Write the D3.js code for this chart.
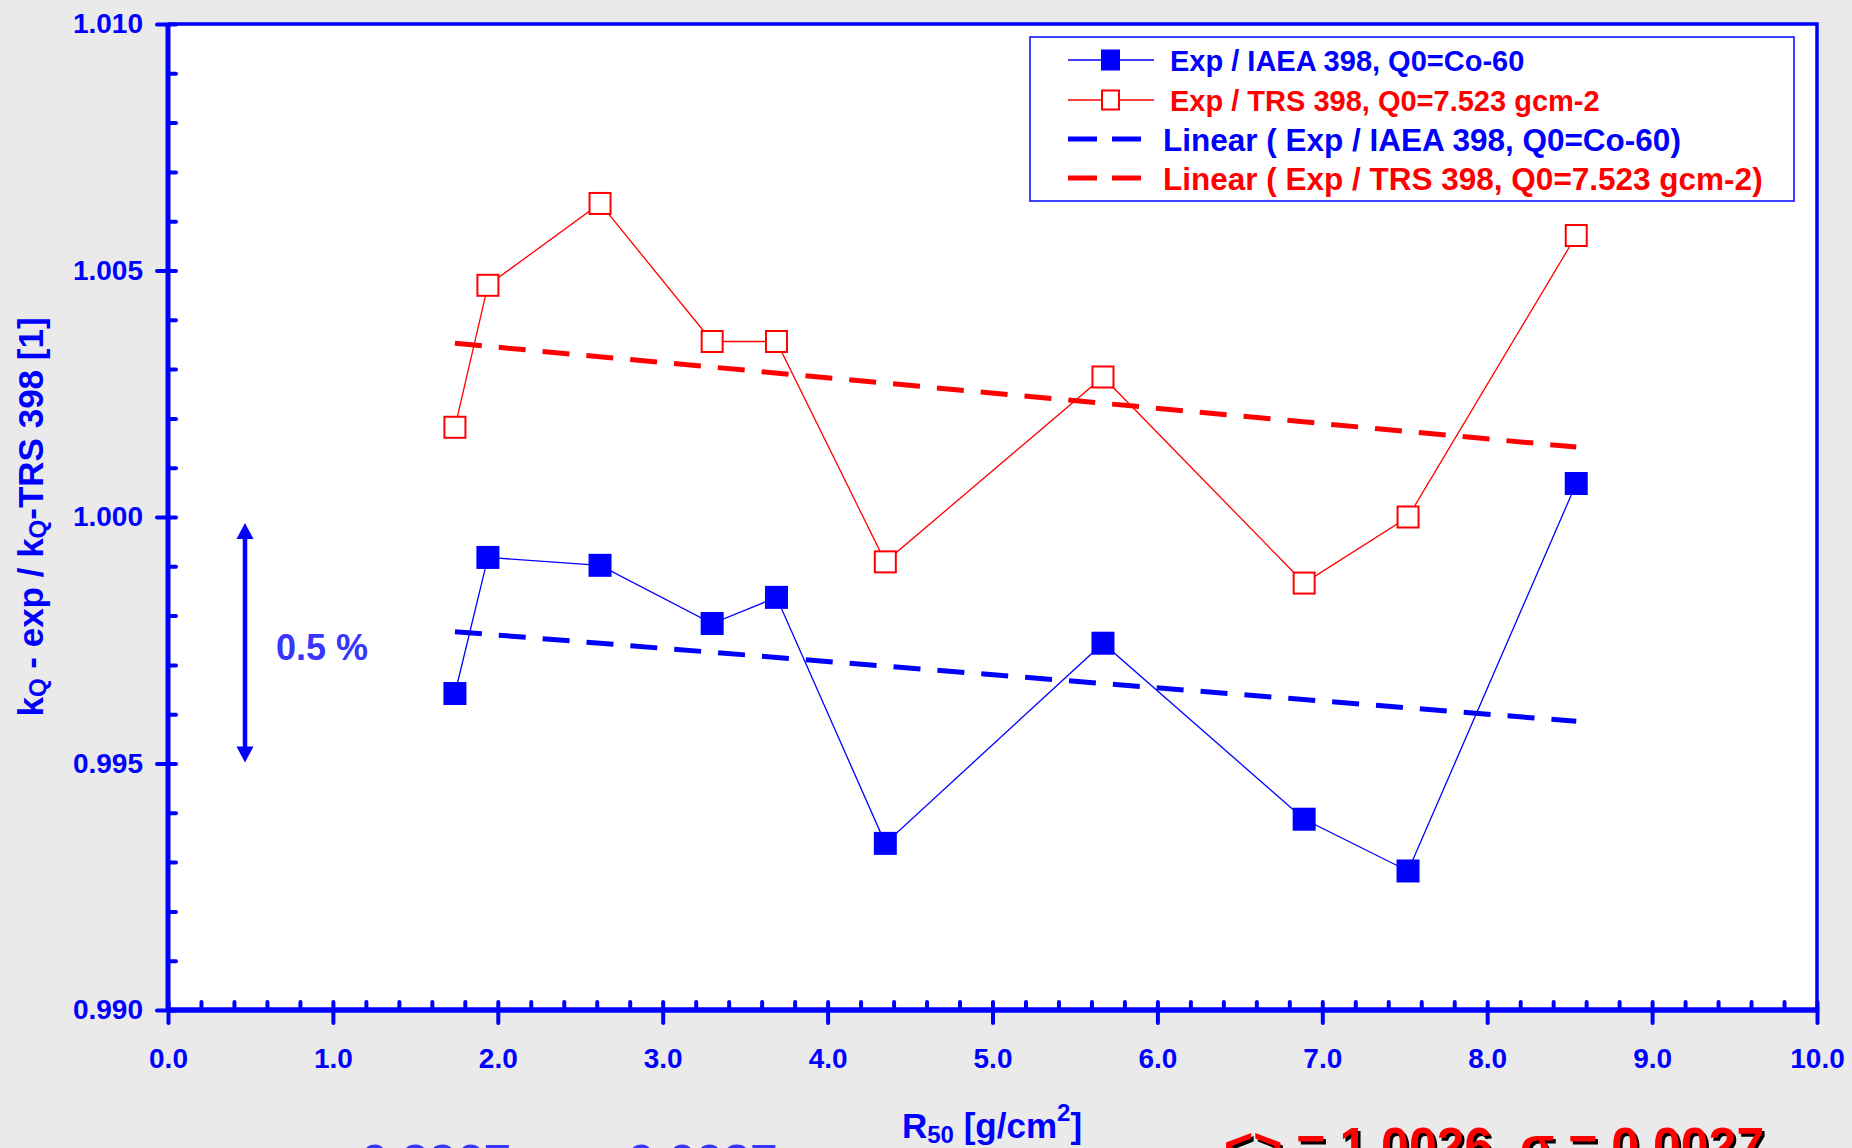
<!DOCTYPE html>
<html>
<head>
<meta charset="utf-8">
<script src="https://cdn.jsdelivr.net/npm/d3@7"></script>
<style>
  html, body { margin: 0; padding: 0; background: #eaeaea; }
  svg { display: block; font-family: "Liberation Sans", Arial, sans-serif; font-weight: bold; }
</style>
</head>
<body>
<svg id="chart" width="1852" height="1148"></svg>
<script>
// Beam quality (R50, g/cm2) of each measured electron beam
const r50 = [1.74, 1.94, 2.62, 3.30, 3.69, 4.35, 5.67, 6.89, 7.52, 8.54];
// kQ-exp / kQ-TRS 398 ratios, reference quality Q0 = Co-60
const ratioIAEA = [0.99642, 0.99918, 0.99902, 0.99784, 0.99837, 0.99338, 0.99744, 0.99387, 0.99282, 1.00068];
// kQ-exp / kQ-TRS 398 ratios, reference quality Q0 = 7.523 g/cm2
const ratioTRS = [1.00182, 1.00470, 1.00636, 1.00356, 1.00356, 0.99909, 1.00284, 0.99866, 1.00000, 1.00571];

const xTickValues = [0, 1, 2, 3, 4, 5, 6, 7, 8, 9, 10];
const xTickLabels = ["0.0", "1.0", "2.0", "3.0", "4.0", "5.0", "6.0", "7.0", "8.0", "9.0", "10.0"];
const yTickValues = [0.990, 0.995, 1.000, 1.005, 1.010];
const yTickLabels = ["0.990", "0.995", "1.000", "1.005", "1.010"];

const seriesNames = [
  "Exp / IAEA 398, Q0=Co-60",
  "Exp / TRS 398, Q0=7.523 gcm-2",
  "Linear ( Exp / IAEA 398, Q0=Co-60)",
  "Linear ( Exp / TRS 398, Q0=7.523 gcm-2)"
];
// 0.5 % scale bar
const scaleBar = [1.000, 0.995];
const scaleBarLabel = "0.5 %";
const summaryIAEA = "<> = 0.9967, σ = 0.0027";
const summaryTRS = "<> = 1.0026, σ = 0.0027";

const BLUE = "#0000ff", RED = "#ff0000", SOFTBLUE = "#3636ff";

const svg = d3.select("#chart");
const x = d3.scaleLinear().domain([0, 10]).range([168, 1817]);
const y = d3.scaleLinear().domain([0.990, 1.010]).range([1010, 24]);

// plot area
svg.append("rect")
  .attr("x", x(0)).attr("y", y(1.010))
  .attr("width", x(10) - x(0)).attr("height", y(0.990) - y(1.010))
  .attr("fill", "#ffffff");

// least-squares straight line through a series
function linearFit(xs, ys) {
  const mx = d3.mean(xs), my = d3.mean(ys);
  let sxy = 0, sxx = 0;
  xs.forEach((v, i) => { sxy += (v - mx) * (ys[i] - my); sxx += (v - mx) * (v - mx); });
  const b = sxy / sxx;
  return v => my + b * (v - mx);
}

const line = d3.line().x(d => x(d[0])).y(d => y(d[1]));
const ptsIAEA = r50.map((v, i) => [v, ratioIAEA[i]]);
const ptsTRS = r50.map((v, i) => [v, ratioTRS[i]]);
const xExt = d3.extent(r50);

// trend lines
[[ratioIAEA, BLUE], [ratioTRS, RED]].forEach(([ys, c]) => {
  const f = linearFit(r50, ys);
  svg.append("path")
    .attr("d", line(xExt.map(v => [v, f(v)])))
    .attr("fill", "none").attr("stroke", c)
    .attr("stroke-width", 5).attr("stroke-dasharray", "27,17");
});

// connecting lines
svg.append("path").attr("d", line(ptsIAEA)).attr("fill", "none").attr("stroke", BLUE).attr("stroke-width", 1.3);
svg.append("path").attr("d", line(ptsTRS)).attr("fill", "none").attr("stroke", RED).attr("stroke-width", 1.3);

// markers
svg.append("g").selectAll("rect").data(ptsIAEA).join("rect")
  .attr("x", d => x(d[0]) - 11.5).attr("y", d => y(d[1]) - 11.5)
  .attr("width", 23).attr("height", 23).attr("fill", BLUE);
svg.append("g").selectAll("rect").data(ptsTRS).join("rect")
  .attr("x", d => x(d[0]) - 10.5).attr("y", d => y(d[1]) - 10.5)
  .attr("width", 21).attr("height", 21).attr("fill", "#ffffff")
  .attr("stroke", RED).attr("stroke-width", 2);

// frame: top and right
svg.append("path")
  .attr("d", `M${x(0)},${y(1.010)}H${x(10)}V${y(0.990)}`)
  .attr("fill", "none").attr("stroke", BLUE).attr("stroke-width", 3.5);

function styleAxis(g, size) {
  g.select(".domain").remove();
  g.attr("font-family", null).attr("font-size", size);
  g.selectAll("line").attr("stroke", BLUE).attr("stroke-width", 4).attr("stroke-linecap", "round");
  g.selectAll("text").attr("fill", BLUE).attr("font-weight", "bold");
}

// x axis
const gx = svg.append("g").attr("transform", `translate(0,${y(0.990)})`);
gx.append("g").call(d3.axisTop(x).tickValues(x.ticks(50)).tickSize(8).tickFormat(""))
  .call(g => styleAxis(g, 28));
gx.append("g").call(d3.axisBottom(x).tickValues(xTickValues).tickSize(13).tickPadding(25)
    .tickFormat((d, i) => xTickLabels[i]))
  .call(g => styleAxis(g, 28));

// y axis
const gy = svg.append("g").attr("transform", `translate(${x(0)},0)`);
gy.append("g").call(d3.axisRight(y).tickValues(y.ticks(20)).tickSize(8).tickFormat(""))
  .call(g => styleAxis(g, 28));
gy.append("g").call(d3.axisLeft(y).tickValues(yTickValues).tickSize(11).tickPadding(14)
    .tickFormat((d, i) => yTickLabels[i]))
  .call(g => styleAxis(g, 28));

// axis lines
svg.append("line").attr("x1", x(0)).attr("x2", x(0)).attr("y1", y(1.010)).attr("y2", y(0.990))
  .attr("stroke", BLUE).attr("stroke-width", 5);
svg.append("line").attr("x1", x(0)).attr("x2", x(10)).attr("y1", y(0.990)).attr("y2", y(0.990))
  .attr("stroke", BLUE).attr("stroke-width", 5.5);

// y title
const yTitle = svg.append("text")
  .attr("transform", `translate(43,${(y(0.990) + y(1.010)) / 2}) rotate(-90)`)
  .attr("text-anchor", "middle").attr("font-size", 35).attr("fill", BLUE);
yTitle.append("tspan").text("k");
yTitle.append("tspan").attr("font-size", 24).attr("dy", 3).text("Q");
yTitle.append("tspan").attr("dy", -3).text(" - exp / k");
yTitle.append("tspan").attr("font-size", 24).attr("dy", 3).text("Q");
yTitle.append("tspan").attr("dy", -3).text("-TRS 398 [1]");

// x title
const xTitle = svg.append("text")
  .attr("x", 992).attr("y", 1138)
  .attr("text-anchor", "middle").attr("font-size", 35).attr("fill", BLUE);
xTitle.append("tspan").text("R");
xTitle.append("tspan").attr("font-size", 24).attr("dy", 5).text("50");
xTitle.append("tspan").attr("dy", -5).text(" [g/cm");
xTitle.append("tspan").attr("font-size", 24).attr("dy", -17).text("2");
xTitle.append("tspan").attr("dy", 17).text("]");

// scale bar: vertical double-headed arrow spanning 0.5 %
const barX = 245;
const barTop = y(scaleBar[0]) + 6, barBottom = y(scaleBar[1]) - 1;
const headW = 17, headH = 16;
svg.append("line")
  .attr("x1", barX).attr("x2", barX)
  .attr("y1", barTop + headH - 2).attr("y2", barBottom - headH + 2)
  .attr("stroke", BLUE).attr("stroke-width", 4.5);
svg.append("path")
  .attr("d", `M${barX},${barTop}L${barX + headW / 2},${barTop + headH}L${barX - headW / 2},${barTop + headH}Z` +
             `M${barX},${barBottom}L${barX + headW / 2},${barBottom - headH}L${barX - headW / 2},${barBottom - headH}Z`)
  .attr("fill", BLUE);
svg.append("text").attr("x", 276).attr("y", 660)
  .attr("font-size", 36).attr("fill", SOFTBLUE).text(scaleBarLabel);

// legend
const lg = svg.append("g");
lg.append("rect").attr("x", 1030).attr("y", 37).attr("width", 764).attr("height", 164)
  .attr("fill", "#ffffff").attr("stroke", BLUE).attr("stroke-width", 1.5);
const rowsY = [60, 100, 139, 178];
const rowColors = [BLUE, RED, BLUE, RED];
rowsY.forEach((ry, i) => {
  const c = rowColors[i];
  if (i < 2) {
    lg.append("line").attr("x1", 1068).attr("x2", 1154).attr("y1", ry).attr("y2", ry)
      .attr("stroke", c).attr("stroke-width", 1.3);
    if (i === 0) {
      lg.append("rect").attr("x", 1101).attr("y", ry - 10.5).attr("width", 19).attr("height", 21).attr("fill", BLUE);
    } else {
      lg.append("rect").attr("x", 1102).attr("y", ry - 9.5).attr("width", 17).attr("height", 19)
        .attr("fill", "#ffffff").attr("stroke", RED).attr("stroke-width", 2);
    }
  } else {
    lg.append("line").attr("x1", 1068).attr("x2", 1141).attr("y1", ry).attr("y2", ry)
      .attr("stroke", c).attr("stroke-width", 5).attr("stroke-dasharray", "29,15");
  }
  lg.append("text").attr("x", i < 2 ? 1170 : 1163).attr("y", i < 2 ? ry + 10.5 : ry + 11.5)
    .attr("font-size", i < 2 ? 29 : 31.5).attr("fill", c).text(seriesNames[i]);
});

// summary statistics with drop shadow
function shadowText(tx, ty, str, color, size, off) {
  svg.append("text").attr("x", tx + off).attr("y", ty + off)
    .attr("font-size", size).attr("fill", "#000000").text(str);
  svg.append("text").attr("x", tx).attr("y", ty)
    .attr("font-size", size).attr("fill", color).text(str);
}
shadowText(248, 1178, summaryIAEA, SOFTBLUE, 49, 2.5);
shadowText(1224, 1163, summaryTRS, RED, 50, 2.5);
</script>
</body>
</html>
